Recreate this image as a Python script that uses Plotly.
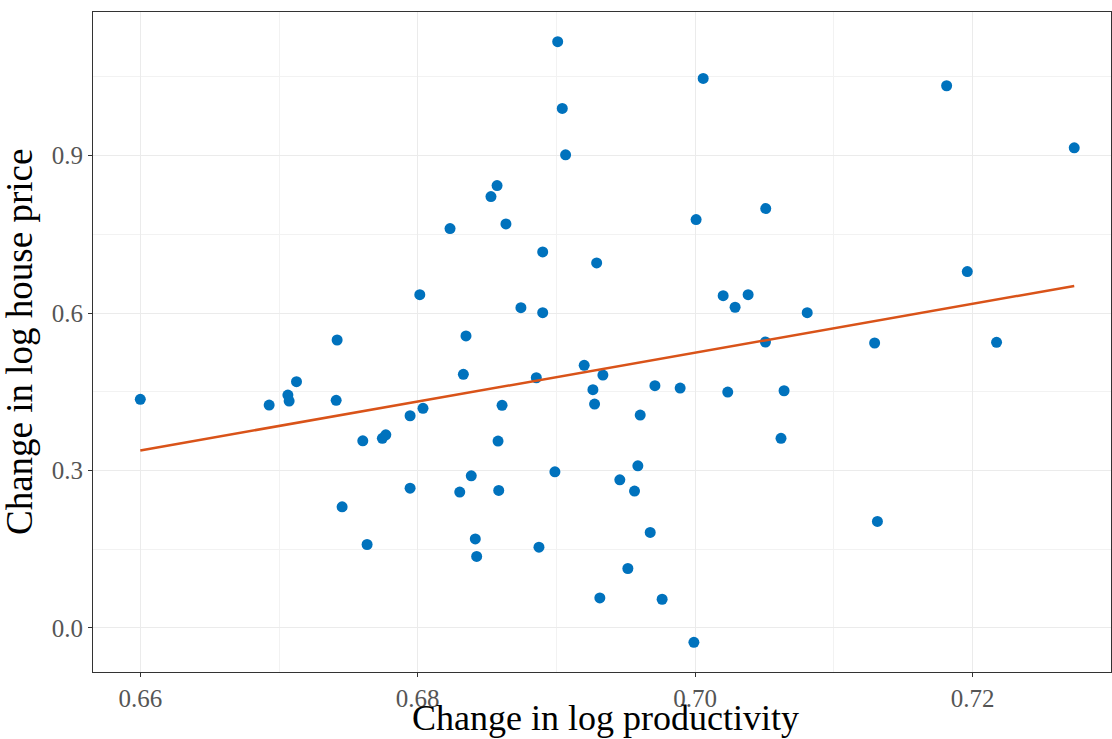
import numpy as np
import plotly.graph_objects as go

productivity = [0.6600, 0.66929, 0.67064, 0.67073, 0.67126, 0.67412, 0.67419, 0.67455, 0.67604, 0.67635,
                0.67745, 0.67770, 0.67945, 0.67945, 0.68015, 0.68038, 0.68233, 0.68303, 0.68329, 0.68348,
                0.68386, 0.68415, 0.68425, 0.68528, 0.68572, 0.68579, 0.68584, 0.68608, 0.68636, 0.68744,
                0.68855, 0.68874, 0.68901, 0.68901, 0.68989, 0.69009, 0.69042, 0.69066, 0.69200, 0.69263,
                0.69275, 0.69290, 0.69313, 0.69335, 0.69457, 0.69515, 0.69563, 0.69587, 0.69604, 0.69676,
                0.69710, 0.69762, 0.69892, 0.69991, 0.70007, 0.70058, 0.70202, 0.70235, 0.70288, 0.70382,
                0.70507, 0.70509, 0.70619, 0.70641, 0.70808, 0.71294, 0.71314, 0.71813, 0.71962, 0.72173,
                0.72733]
house_price = [0.4355, 0.4247, 0.4437, 0.4323, 0.4691, 0.4336, 0.5486, 0.2307, 0.3566, 0.1590,
               0.3612, 0.3680, 0.4043, 0.2664, 0.6350, 0.4184, 0.7609, 0.2588, 0.4832, 0.5563,
               0.2899, 0.1697, 0.1362, 0.8219, 0.8429, 0.3560, 0.2620, 0.4241, 0.7698, 0.6102,
               0.4767, 0.1539, 0.7164, 0.6007, 0.2975, 1.1169, 0.9897, 0.9014, 0.5004, 0.4539,
               0.4266, 0.6955, 0.0572, 0.4819, 0.2822, 0.1133, 0.2607, 0.3089, 0.4056, 0.1819,
               0.4615, 0.0547, 0.4571, -0.0273, 0.7780, 1.0469, 0.6331, 0.4495, 0.6110, 0.6350,
               0.5448, 0.7990, 0.3612, 0.4519, 0.6007, 0.5429, 0.2029, 1.0330, 0.6789, 0.5442,
               0.9148]

x_ticks = [0.66, 0.68, 0.70, 0.72]
y_ticks = [0.0, 0.3, 0.6, 0.9]
x_title = "Change in log productivity"
y_title = "Change in log house price"

x = np.array(productivity)
y = np.array(house_price)
slope, intercept = np.polyfit(x, y, 1)
xfit = np.array([x.min(), x.max()])
yfit = intercept + slope * xfit

FONT = "Liberation Serif"

fig = go.Figure()
fig.add_trace(go.Scatter(x=x, y=y, mode="markers",
                         marker=dict(color="#0072BD", size=11, line=dict(width=0)),
                         showlegend=False))
fig.add_trace(go.Scatter(x=xfit, y=yfit, mode="lines",
                         line=dict(color="#D95319", width=2.5),
                         showlegend=False))

axis_common = dict(
    showline=True, linecolor="#333333", linewidth=1, mirror=True,
    ticks="outside", ticklen=4, tickcolor="#333333", tickwidth=1,
    showgrid=True, gridcolor="#EBEBEB", gridwidth=1.3,
    zeroline=False, automargin=False,
    tickfont=dict(family=FONT, size=25, color="#555555"),
)

fig.update_layout(
    width=1112, height=739,
    margin=dict(l=93, r=1, t=12, b=67),
    paper_bgcolor="white", plot_bgcolor="white",
    xaxis=dict(range=[0.65659, 0.72998], tickvals=x_ticks, ticktext=[f"{v:.2f}" for v in x_ticks],
               minor=dict(dtick=0.01, tick0=0.66, showgrid=True, gridcolor="#F2F2F2", gridwidth=0.8, ticks=""),
               **axis_common),
    yaxis=dict(range=[-0.0839, 1.1735], tickvals=y_ticks, ticktext=[f"{v:.1f}" for v in y_ticks],
               minor=dict(dtick=0.15, tick0=0.0, showgrid=True, gridcolor="#F2F2F2", gridwidth=0.8, ticks=""),
               **axis_common),
    annotations=[
        dict(text=x_title, xref="paper", yref="paper", x=0.503, y=-0.069,
             xanchor="center", yanchor="middle", showarrow=False,
             font=dict(family=FONT, size=36, color="black")),
        dict(text=y_title, xref="paper", yref="paper", x=-0.0727, y=0.5,
             xanchor="center", yanchor="middle", showarrow=False, textangle=-90,
             font=dict(family=FONT, size=37, color="black")),
    ],
)

fig.write_html("out.html")
